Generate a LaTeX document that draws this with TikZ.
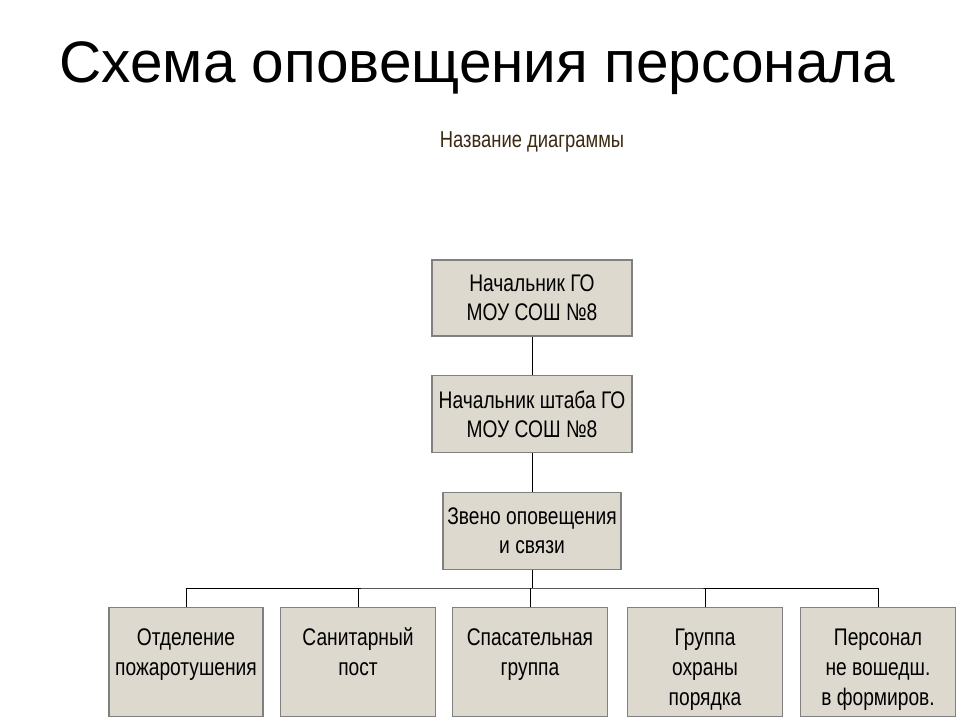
\documentclass[tikz,border=0pt]{standalone}
\usepackage{fontspec}
\setmainfont{Liberation Sans}
\newfontfamily\narrowfont[FakeStretch=0.8]{Liberation Sans}
\usetikzlibrary{positioning}
\definecolor{boxfill}{HTML}{DDD9CE}
\definecolor{boxline}{HTML}{808080}
\definecolor{captext}{HTML}{3B2A10}
\tikzset{
  unitbox/.style={draw=boxline, fill=boxfill, line width=1.2pt, align=center,
    font=\narrowfont\fontsize{24}{29}\selectfont, inner sep=0pt},
  lowbox/.style={unitbox, minimum width=155pt, minimum height=109pt, anchor=north,
    label={[anchor=north, yshift=-15pt, align=center,
      font=\narrowfont\fontsize{24}{30}\selectfont]north:\rule{0pt}{20pt}#1}},
  link/.style={draw=black, line width=1pt}
}
\begin{document}
\begin{tikzpicture}[x=1pt,y=-1pt]
    \useasboundingbox (0,0) rectangle (960,720);
    \node[anchor=west, font=\fontsize{58.5}{64}\selectfont] (title) at (56,68) {Схема оповещения персонала};
    \node[font=\narrowfont\fontsize{23}{27}\selectfont, text=captext] (caption) at (532,142) {Название диаграммы};
    % chain of command
    \node[unitbox, minimum width=200pt, minimum height=76pt] (chief) at (532,298) {Начальник ГО\\МОУ СОШ №8};
    \node[unitbox, minimum width=200pt, minimum height=77pt] (staff) at (532,414) {Начальник штаба ГО\\МОУ СОШ №8};
    \node[unitbox, minimum width=178pt, minimum height=77pt] (notify) at (532,531) {Звено оповещения\\и связи};
    % subordinate units
    \node[lowbox={Отделение\\пожаротушения}, minimum width=154pt] (fire) at (186,607) {};
    \node[lowbox={Санитарный\\пост}] (medic) at (358,607) {};
    \node[lowbox={Спасательная\\группа}] (rescue) at (530,607) {};
    \node[lowbox={Группа\\охраны\\порядка}] (guard) at (705,607) {};
    \node[lowbox={Персонал\\не вошедш.\\в формиров.}] (staffrest) at (878,607) {};
    \coordinate (bus) at (532,588);
    \draw[link] (chief) -- (staff);
    \draw[link] (staff) -- (notify);
    \draw[link] (notify) -- (bus);
    \draw[link] (fire.north) |- (bus) -| (staffrest.north);
    \foreach \u in {medic,rescue,guard}
      \draw[link] (\u.north) -- (\u.north |- bus);
\end{tikzpicture}
\end{document}
